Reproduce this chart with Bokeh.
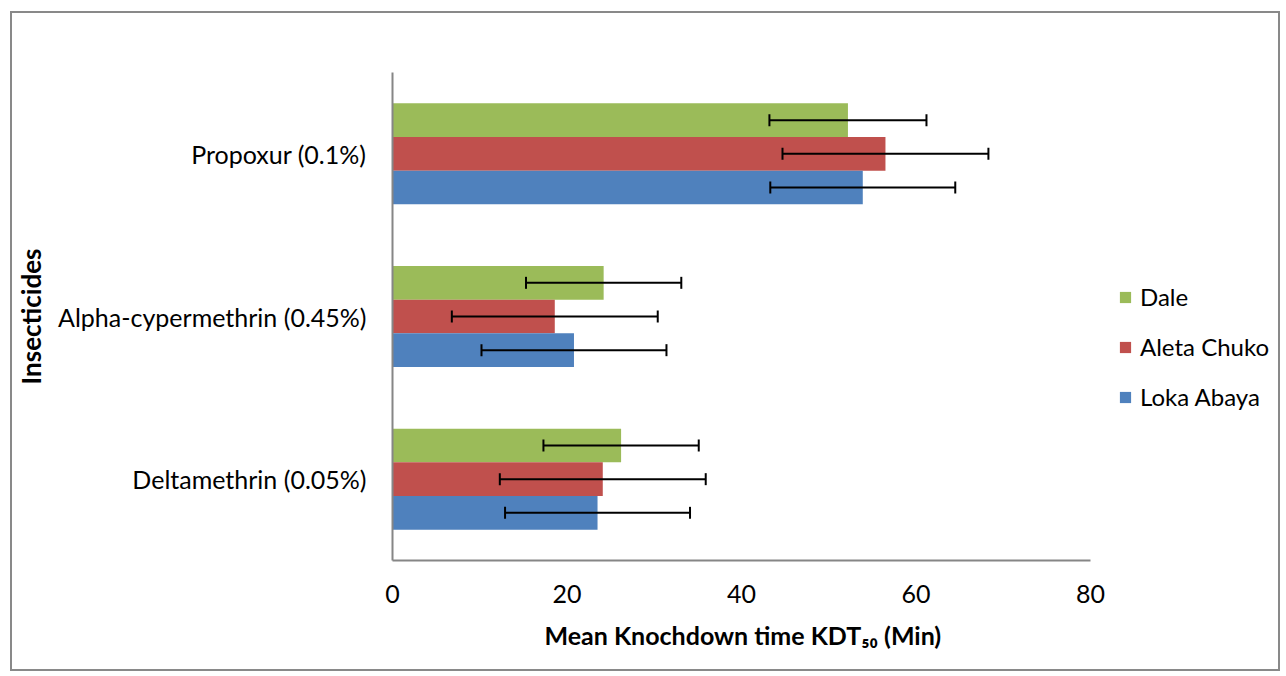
from bokeh.plotting import figure
from bokeh.models import (ColumnDataSource, Range1d, FactorRange, Whisker, TeeHead,
                          Legend, LegendItem, Title)
from bokeh.transform import dodge
from bokeh.embed import file_html
from bokeh.resources import INLINE

# ---- data ----
categories = ["Deltamethrin (0.05%)", "Alpha-cypermethrin (0.45%)", "Propoxur (0.1%)"]
series_names = ["Dale", "Aleta Chuko", "Loka Abaya"]
dale = [26.2, 24.2, 52.2]
aleta = [24.1, 18.6, 56.5]
loka = [23.5, 20.8, 53.9]
dale_err = [8.9, 8.9, 9.0]
aleta_err = [11.8, 11.8, 11.8]
loka_err = [10.6, 10.6, 10.6]
x_ticks = [0, 20, 40, 60, 80]
x_max = 80

colors = ["#9BBB59", "#C0504D", "#4F81BD"]
offsets = [0.207, 0.0, -0.207]
bar_h = 0.207

src = ColumnDataSource(dict(
    cat=categories,
    dale=dale, aleta=aleta, loka=loka,
    dale_lo=[v - e for v, e in zip(dale, dale_err)],
    dale_hi=[v + e for v, e in zip(dale, dale_err)],
    aleta_lo=[v - e for v, e in zip(aleta, aleta_err)],
    aleta_hi=[v + e for v, e in zip(aleta, aleta_err)],
    loka_lo=[v - e for v, e in zip(loka, loka_err)],
    loka_hi=[v + e for v, e in zip(loka, loka_err)],
))

FONT = "Lato"

# layout: the frame runs to the right edge so the legend sits inside it;
# the value axis itself only spans 0..80 (698 px of the 890 px frame)
W, H = 1270, 660
LEFT, TOP, BOTTOM = 380, 59, 113
frame_w = W - LEFT
axis_px = 698
x_end = x_max * frame_w / axis_px

p = figure(width=W, height=H,
           y_range=FactorRange(factors=categories),
           x_range=Range1d(0, x_end),
           output_backend="svg", toolbar_location=None,
           min_border_left=LEFT, min_border_right=0,
           min_border_top=TOP, min_border_bottom=BOTTOM)
p.styles = {"border": "2px solid #898989", "margin-left": "10px", "margin-top": "11px"}
p.outline_line_color = None
p.xgrid.visible = False
p.ygrid.visible = False

renderers = []
for key, col, off in zip(["dale", "aleta", "loka"], colors, offsets):
    r = p.hbar(y=dodge("cat", off, range=p.y_range), right=key, left=0,
               height=bar_h, source=src, fill_color=col, line_color=None)
    renderers.append(r)
    w = Whisker(source=src, base=dodge("cat", off, range=p.y_range),
                lower=key + "_lo", upper=key + "_hi", dimension="width",
                line_color="black", line_width=2,
                upper_head=TeeHead(size=12, line_width=2, line_color="black"),
                lower_head=TeeHead(size=12, line_width=2, line_color="black"))
    w.level = "overlay"
    p.add_layout(w)

# axes
for ax in (p.xaxis[0], p.yaxis[0]):
    ax.axis_line_color = "#868686"
    ax.axis_line_width = 2
    ax.major_tick_out = 0
    ax.major_tick_in = 0
    ax.minor_tick_out = 0
    ax.minor_tick_in = 0
    ax.major_label_text_font = FONT
    ax.major_label_text_font_size = "25px"
    ax.major_label_text_color = "black"
    ax.axis_label_text_font = FONT
    ax.axis_label_text_font_style = "bold"
    ax.axis_label_text_color = "black"

p.xaxis.ticker = x_ticks
p.xaxis.bounds = (0, x_max)
p.xaxis.major_label_standoff = 24

# x-axis title, placed under the 0..80 part of the axis
x_title = Title(text="Mean Knochdown time KDT\u2085\u2080 (Min)", align="left",
                offset=152, text_font=FONT, text_font_style="bold",
                text_font_size="25px", text_color="black",
                padding=dict(top=7, bottom=0, left=0, right=0))
p.add_layout(x_title, "below")

p.yaxis.major_label_standoff = 26
p.yaxis.axis_label = "Insecticides"
p.yaxis.axis_label_standoff = 8
p.yaxis.axis_label_text_font_size = "26px"

legend = Legend(items=[LegendItem(label=n, renderers=[r]) for n, r in zip(series_names, renderers)],
                location=(726, 149), orientation="vertical",
                border_line_color=None, background_fill_alpha=0,
                padding=0, margin=0, spacing=21, label_height=28,
                glyph_height=14, glyph_width=14, label_standoff=8,
                label_text_font=FONT, label_text_font_size="24px",
                label_text_color="black")
p.add_layout(legend)

open("out.html", "w").write(file_html(p, INLINE))
